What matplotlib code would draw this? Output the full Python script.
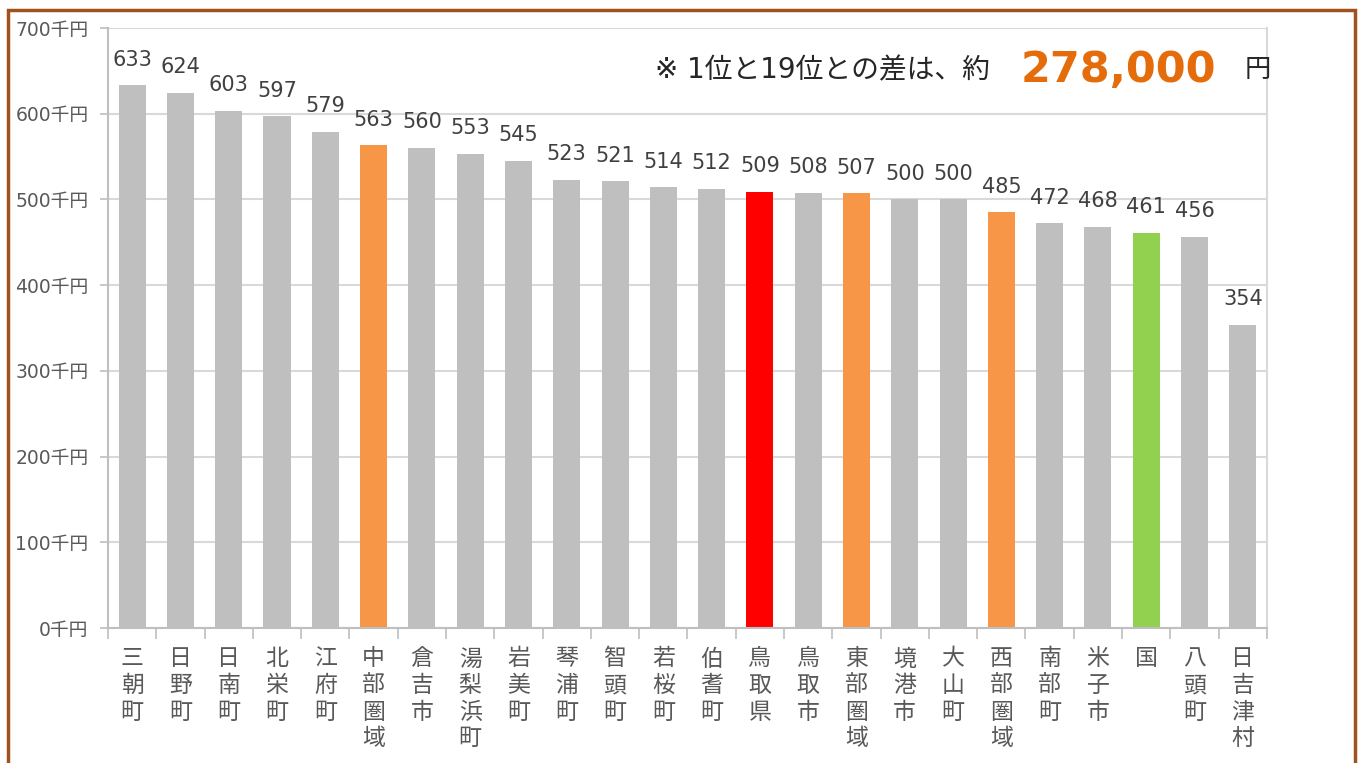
import matplotlib
matplotlib.use("Agg")
import matplotlib.pyplot as plt
from matplotlib.patches import Rectangle
import numpy as np

# 数字はDejaVu、漢字はNoto CJK
plt.rcParams['font.family'] = ['DejaVu Sans', 'Noto Sans CJK JP']

# 市町村別の値（千円）
names = ["三朝町", "日野町", "日南町", "北栄町", "江府町", "中部圏域", "倉吉市", "湯梨浜町",
         "岩美町", "琴浦町", "智頭町", "若桜町", "伯耆町", "鳥取県", "鳥取市", "東部圏域",
         "境港市", "大山町", "西部圏域", "南部町", "米子市", "国", "八頭町", "日吉津村"]
values = [633, 624, 603, 597, 579, 563, 560, 553, 545, 523, 521, 514, 512, 509, 508, 507,
          500, 500, 485, 472, 468, 461, 456, 354]
kinds = ["m", "m", "m", "m", "m", "area", "m", "m", "m", "m", "m", "m", "m", "pref", "m", "area",
         "m", "m", "area", "m", "m", "nation", "m", "m"]
yticks = [0, 100, 200, 300, 400, 500, 600, 700]

colors = {"m": "#BFBFBF", "area": "#F79646", "pref": "#FF0000", "nation": "#92D050"}
txt = "#595959"

fig = plt.figure(figsize=(13.62, 7.63), dpi=100)
ax = fig.add_axes([0.0793, 0.1769, 0.8509, 0.7864])

x = np.arange(len(values))
bars = ax.bar(x, values, width=0.56, color=[colors[k] for k in kinds], zorder=2)
for b, v in zip(bars, values):
    ax.text(b.get_x() + b.get_width() / 2, v + 23, str(v), ha="center", va="baseline",
            fontsize=15, color="#404040")

ax.set_xlim(-0.5, len(values) - 0.5)
ax.set_ylim(0, 700)
ax.yaxis.grid(True, color="#D9D9D9", lw=1.5, zorder=0)

# 目盛りの体裁を先に決めてからラベルを付ける
ax.tick_params(axis="y", length=6, color="#BFBFBF", width=1.2, pad=8,
               labelsize=13.5, labelcolor=txt)
ax.tick_params(axis="x", which="major", length=0, pad=14, labelsize=16.5, labelcolor=txt)
ax.tick_params(axis="x", which="minor", length=8, color="#BFBFBF", width=1.2)

ax.set_yticks(yticks)
ax.set_yticklabels([f"{t}千円" for t in yticks])

ax.set_xticks(x)
xlabels = ax.set_xticklabels(["\n".join(n) for n in names])
for t in xlabels:
    t.set_family("Noto Sans CJK JP")
    t.set_linespacing(1.2)
    t.set_va("top")
ax.set_xticks(np.arange(-0.5, len(values)), minor=True)

for s in ["left", "bottom", "right"]:
    ax.spines[s].set_color("#BFBFBF")
    ax.spines[s].set_linewidth(1.5)
ax.spines["right"].set_color("#D9D9D9")
ax.spines["top"].set_visible(False)

fig.text(0.481, 0.908, "※ 1位と19位との差は、約", fontsize=20, color="#262626", va="center")
fig.text(0.749, 0.908, "278,000", fontsize=31, color="#E46C0A", fontweight="bold", va="center")
fig.text(0.914, 0.908, "円", fontsize=19, color="#262626", va="center")

fig.patches.append(Rectangle((0.006, -0.05), 0.989, 1.037, transform=fig.transFigure,
                             fill=False, edgecolor="#A0521E", lw=2.5))

fig.savefig("out.png", dpi=100)
